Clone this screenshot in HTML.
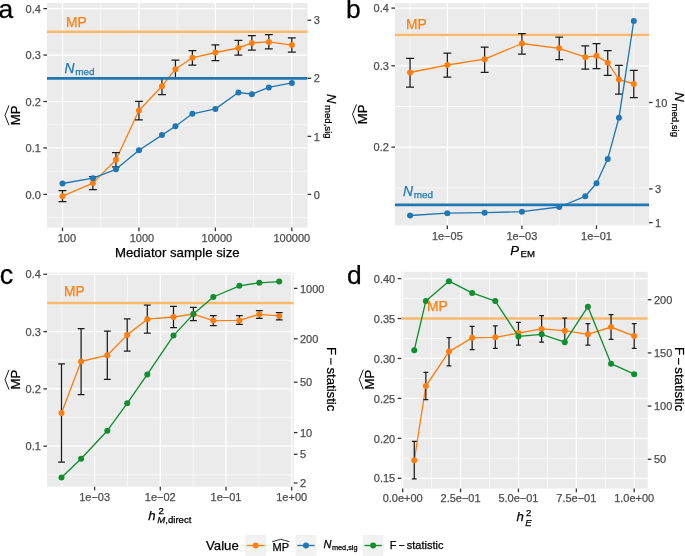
<!DOCTYPE html>
<html><head><meta charset="utf-8"><style>html,body{margin:0;padding:0;background:#fff;overflow:hidden}svg{display:block}text{font-family:"Liberation Sans",sans-serif}</style></head><body>
<svg width="685" height="556" viewBox="0 0 685 556" style="will-change:transform" font-family="'Liberation Sans', sans-serif">
<rect width="685" height="556" fill="#fff"/>
<defs>
<clipPath id="clipa"><rect x="47" y="3" width="260.60" height="224.60"/></clipPath>
<clipPath id="clipb"><rect x="395" y="3.2" width="254.00" height="222.20"/></clipPath>
<clipPath id="clipc"><rect x="47" y="272.5" width="246.90" height="214.30"/></clipPath>
<clipPath id="clipd"><rect x="401.3" y="271.8" width="246.50" height="216.80"/></clipPath>
</defs>
<rect x="47" y="3" width="260.60" height="224.60" fill="#EBEBEB"/>
<g clip-path="url(#clipa)">
<line x1="47" x2="307.6" y1="217.62" y2="217.62" stroke="#fff" stroke-width="0.65"/>
<line x1="47" x2="307.6" y1="171.18" y2="171.18" stroke="#fff" stroke-width="0.65"/>
<line x1="47" x2="307.6" y1="124.73" y2="124.73" stroke="#fff" stroke-width="0.65"/>
<line x1="47" x2="307.6" y1="78.28" y2="78.28" stroke="#fff" stroke-width="0.65"/>
<line x1="47" x2="307.6" y1="31.83" y2="31.83" stroke="#fff" stroke-width="0.65"/>
<line x1="100.72" x2="100.72" y1="3" y2="227.6" stroke="#fff" stroke-width="0.65"/>
<line x1="177.18" x2="177.18" y1="3" y2="227.6" stroke="#fff" stroke-width="0.65"/>
<line x1="253.62" x2="253.62" y1="3" y2="227.6" stroke="#fff" stroke-width="0.65"/>
<line x1="47" x2="307.6" y1="194.40" y2="194.40" stroke="#fff" stroke-width="1.25"/>
<line x1="47" x2="307.6" y1="147.95" y2="147.95" stroke="#fff" stroke-width="1.25"/>
<line x1="47" x2="307.6" y1="101.50" y2="101.50" stroke="#fff" stroke-width="1.25"/>
<line x1="47" x2="307.6" y1="55.05" y2="55.05" stroke="#fff" stroke-width="1.25"/>
<line x1="47" x2="307.6" y1="8.60" y2="8.60" stroke="#fff" stroke-width="1.25"/>
<line x1="62.50" x2="62.50" y1="3" y2="227.6" stroke="#fff" stroke-width="1.25"/>
<line x1="138.95" x2="138.95" y1="3" y2="227.6" stroke="#fff" stroke-width="1.25"/>
<line x1="215.40" x2="215.40" y1="3" y2="227.6" stroke="#fff" stroke-width="1.25"/>
<line x1="291.85" x2="291.85" y1="3" y2="227.6" stroke="#fff" stroke-width="1.25"/>
<line x1="47" x2="307.6" y1="31.83" y2="31.83" stroke="#FDB96B" stroke-width="2.5"/>
<polyline points="62.50,196.20 92.92,183.10 115.94,159.80 138.95,110.50 161.96,86.20 175.43,69.20 192.39,57.80 215.40,52.50 238.41,48.00 251.88,42.90 268.84,41.90 291.85,45.10" fill="none" stroke="#FF7F0E" stroke-width="1.35" stroke-linejoin="round"/>
<path d="M58.55,190.50H66.45M62.50,190.50V201.60M58.55,201.60H66.45" stroke="#1a1a1a" stroke-width="1.25" fill="none"/>
<path d="M88.97,176.60H96.87M92.92,176.60V189.60M88.97,189.60H96.87" stroke="#1a1a1a" stroke-width="1.25" fill="none"/>
<path d="M111.99,152.60H119.89M115.94,152.60V166.80M111.99,166.80H119.89" stroke="#1a1a1a" stroke-width="1.25" fill="none"/>
<path d="M135.00,101.30H142.90M138.95,101.30V119.90M135.00,119.90H142.90" stroke="#1a1a1a" stroke-width="1.25" fill="none"/>
<path d="M158.01,77.70H165.91M161.96,77.70V94.70M158.01,94.70H165.91" stroke="#1a1a1a" stroke-width="1.25" fill="none"/>
<path d="M171.48,60.00H179.38M175.43,60.00V77.50M171.48,77.50H179.38" stroke="#1a1a1a" stroke-width="1.25" fill="none"/>
<path d="M188.44,50.60H196.34M192.39,50.60V65.20M188.44,65.20H196.34" stroke="#1a1a1a" stroke-width="1.25" fill="none"/>
<path d="M211.45,44.90H219.35M215.40,44.90V60.50M211.45,60.50H219.35" stroke="#1a1a1a" stroke-width="1.25" fill="none"/>
<path d="M234.46,40.40H242.36M238.41,40.40V55.10M234.46,55.10H242.36" stroke="#1a1a1a" stroke-width="1.25" fill="none"/>
<path d="M247.93,35.50H255.83M251.88,35.50V50.20M247.93,50.20H255.83" stroke="#1a1a1a" stroke-width="1.25" fill="none"/>
<path d="M264.89,34.70H272.79M268.84,34.70V48.80M264.89,48.80H272.79" stroke="#1a1a1a" stroke-width="1.25" fill="none"/>
<path d="M287.90,37.80H295.80M291.85,37.80V52.10M287.90,52.10H295.80" stroke="#1a1a1a" stroke-width="1.25" fill="none"/>
<circle cx="62.50" cy="196.20" r="3.0" fill="#FF7F0E"/>
<circle cx="92.92" cy="183.10" r="3.0" fill="#FF7F0E"/>
<circle cx="115.94" cy="159.80" r="3.0" fill="#FF7F0E"/>
<circle cx="138.95" cy="110.50" r="3.0" fill="#FF7F0E"/>
<circle cx="161.96" cy="86.20" r="3.0" fill="#FF7F0E"/>
<circle cx="175.43" cy="69.20" r="3.0" fill="#FF7F0E"/>
<circle cx="192.39" cy="57.80" r="3.0" fill="#FF7F0E"/>
<circle cx="215.40" cy="52.50" r="3.0" fill="#FF7F0E"/>
<circle cx="238.41" cy="48.00" r="3.0" fill="#FF7F0E"/>
<circle cx="251.88" cy="42.90" r="3.0" fill="#FF7F0E"/>
<circle cx="268.84" cy="41.90" r="3.0" fill="#FF7F0E"/>
<circle cx="291.85" cy="45.10" r="3.0" fill="#FF7F0E"/>
<polyline points="62.50,183.50 92.92,178.20 115.94,169.30 138.95,150.30 161.96,135.10 175.43,126.30 192.39,113.80 215.40,108.90 238.41,92.50 251.88,94.20 268.84,87.40 291.85,82.90" fill="none" stroke="#1F77B4" stroke-width="1.35" stroke-linejoin="round"/>
<circle cx="62.50" cy="183.50" r="3.0" fill="#1F77B4"/>
<circle cx="92.92" cy="178.20" r="3.0" fill="#1F77B4"/>
<circle cx="115.94" cy="169.30" r="3.0" fill="#1F77B4"/>
<circle cx="138.95" cy="150.30" r="3.0" fill="#1F77B4"/>
<circle cx="161.96" cy="135.10" r="3.0" fill="#1F77B4"/>
<circle cx="175.43" cy="126.30" r="3.0" fill="#1F77B4"/>
<circle cx="192.39" cy="113.80" r="3.0" fill="#1F77B4"/>
<circle cx="215.40" cy="108.90" r="3.0" fill="#1F77B4"/>
<circle cx="238.41" cy="92.50" r="3.0" fill="#1F77B4"/>
<circle cx="251.88" cy="94.20" r="3.0" fill="#1F77B4"/>
<circle cx="268.84" cy="87.40" r="3.0" fill="#1F77B4"/>
<circle cx="291.85" cy="82.90" r="3.0" fill="#1F77B4"/>
<line x1="47" x2="307.6" y1="78.28" y2="78.28" stroke="#1F77B4" stroke-width="2.7"/>
</g>
<line x1="43.4" x2="47" y1="194.40" y2="194.40" stroke="#333333" stroke-width="1.3"/>
<text x="40.90" y="198.55" font-size="11" text-anchor="end" fill="#4D4D4D" stroke="#4D4D4D" stroke-width="0.25">0.0</text>
<line x1="43.4" x2="47" y1="147.95" y2="147.95" stroke="#333333" stroke-width="1.3"/>
<text x="40.90" y="152.10" font-size="11" text-anchor="end" fill="#4D4D4D" stroke="#4D4D4D" stroke-width="0.25">0.1</text>
<line x1="43.4" x2="47" y1="101.50" y2="101.50" stroke="#333333" stroke-width="1.3"/>
<text x="40.90" y="105.65" font-size="11" text-anchor="end" fill="#4D4D4D" stroke="#4D4D4D" stroke-width="0.25">0.2</text>
<line x1="43.4" x2="47" y1="55.05" y2="55.05" stroke="#333333" stroke-width="1.3"/>
<text x="40.90" y="59.20" font-size="11" text-anchor="end" fill="#4D4D4D" stroke="#4D4D4D" stroke-width="0.25">0.3</text>
<line x1="43.4" x2="47" y1="8.60" y2="8.60" stroke="#333333" stroke-width="1.3"/>
<text x="40.90" y="12.75" font-size="11" text-anchor="end" fill="#4D4D4D" stroke="#4D4D4D" stroke-width="0.25">0.4</text>
<line x1="307.6" x2="311.20000000000005" y1="194.40" y2="194.40" stroke="#333333" stroke-width="1.3"/>
<text x="313.70" y="198.55" font-size="11" text-anchor="start" fill="#4D4D4D" stroke="#4D4D4D" stroke-width="0.25">0</text>
<line x1="307.6" x2="311.20000000000005" y1="136.35" y2="136.35" stroke="#333333" stroke-width="1.3"/>
<text x="313.70" y="140.50" font-size="11" text-anchor="start" fill="#4D4D4D" stroke="#4D4D4D" stroke-width="0.25">1</text>
<line x1="307.6" x2="311.20000000000005" y1="78.30" y2="78.30" stroke="#333333" stroke-width="1.3"/>
<text x="313.70" y="82.45" font-size="11" text-anchor="start" fill="#4D4D4D" stroke="#4D4D4D" stroke-width="0.25">2</text>
<line x1="307.6" x2="311.20000000000005" y1="20.25" y2="20.25" stroke="#333333" stroke-width="1.3"/>
<text x="313.70" y="24.40" font-size="11" text-anchor="start" fill="#4D4D4D" stroke="#4D4D4D" stroke-width="0.25">3</text>
<line x1="62.50" x2="62.50" y1="227.6" y2="231.2" stroke="#333333" stroke-width="1.3"/>
<text x="66.90" y="241.70" font-size="11" text-anchor="middle" fill="#4D4D4D" stroke="#4D4D4D" stroke-width="0.25">100</text>
<line x1="138.95" x2="138.95" y1="227.6" y2="231.2" stroke="#333333" stroke-width="1.3"/>
<text x="141.89" y="241.70" font-size="11" text-anchor="middle" fill="#4D4D4D" stroke="#4D4D4D" stroke-width="0.25">1000</text>
<line x1="215.40" x2="215.40" y1="227.6" y2="231.2" stroke="#333333" stroke-width="1.3"/>
<text x="216.87" y="241.70" font-size="11" text-anchor="middle" fill="#4D4D4D" stroke="#4D4D4D" stroke-width="0.25">10000</text>
<line x1="291.85" x2="291.85" y1="227.6" y2="231.2" stroke="#333333" stroke-width="1.3"/>
<text x="291.85" y="241.70" font-size="11" text-anchor="middle" fill="#4D4D4D" stroke="#4D4D4D" stroke-width="0.25">100000</text>
<rect x="395" y="3.2" width="254.00" height="222.20" fill="#EBEBEB"/>
<g clip-path="url(#clipb)">
<line x1="395" x2="649" y1="187.86" y2="187.86" stroke="#fff" stroke-width="0.65"/>
<line x1="395" x2="649" y1="106.49" y2="106.49" stroke="#fff" stroke-width="0.65"/>
<line x1="395" x2="649" y1="36.67" y2="36.67" stroke="#fff" stroke-width="0.65"/>
<line x1="410.05" x2="410.05" y1="3.2" y2="225.4" stroke="#fff" stroke-width="0.65"/>
<line x1="484.63" x2="484.63" y1="3.2" y2="225.4" stroke="#fff" stroke-width="0.65"/>
<line x1="559.21" x2="559.21" y1="3.2" y2="225.4" stroke="#fff" stroke-width="0.65"/>
<line x1="633.79" x2="633.79" y1="3.2" y2="225.4" stroke="#fff" stroke-width="0.65"/>
<line x1="395" x2="649" y1="147.12" y2="147.12" stroke="#fff" stroke-width="1.25"/>
<line x1="395" x2="649" y1="65.80" y2="65.80" stroke="#fff" stroke-width="1.25"/>
<line x1="395" x2="649" y1="8.10" y2="8.10" stroke="#fff" stroke-width="1.25"/>
<line x1="447.34" x2="447.34" y1="3.2" y2="225.4" stroke="#fff" stroke-width="1.25"/>
<line x1="521.92" x2="521.92" y1="3.2" y2="225.4" stroke="#fff" stroke-width="1.25"/>
<line x1="596.50" x2="596.50" y1="3.2" y2="225.4" stroke="#fff" stroke-width="1.25"/>
<line x1="395" x2="649" y1="34.88" y2="34.88" stroke="#FDB96B" stroke-width="2.5"/>
<polyline points="410.05,72.50 447.34,65.00 484.63,59.20 521.92,43.50 559.21,48.30 585.27,57.20 596.50,55.80 607.73,62.70 618.95,79.50 633.79,83.90" fill="none" stroke="#FF7F0E" stroke-width="1.35" stroke-linejoin="round"/>
<path d="M406.10,58.40H414.00M410.05,58.40V87.20M406.10,87.20H414.00" stroke="#1a1a1a" stroke-width="1.25" fill="none"/>
<path d="M443.39,53.10H451.29M447.34,53.10V77.20M443.39,77.20H451.29" stroke="#1a1a1a" stroke-width="1.25" fill="none"/>
<path d="M480.68,47.20H488.58M484.63,47.20V72.30M480.68,72.30H488.58" stroke="#1a1a1a" stroke-width="1.25" fill="none"/>
<path d="M517.97,33.70H525.87M521.92,33.70V54.10M517.97,54.10H525.87" stroke="#1a1a1a" stroke-width="1.25" fill="none"/>
<path d="M555.26,37.20H563.16M559.21,37.20V59.70M555.26,59.70H563.16" stroke="#1a1a1a" stroke-width="1.25" fill="none"/>
<path d="M581.32,45.90H589.22M585.27,45.90V69.00M581.32,69.00H589.22" stroke="#1a1a1a" stroke-width="1.25" fill="none"/>
<path d="M592.55,43.50H600.45M596.50,43.50V68.50M592.55,68.50H600.45" stroke="#1a1a1a" stroke-width="1.25" fill="none"/>
<path d="M603.78,50.60H611.68M607.73,50.60V75.40M603.78,75.40H611.68" stroke="#1a1a1a" stroke-width="1.25" fill="none"/>
<path d="M615.00,65.30H622.90M618.95,65.30V94.20M615.00,94.20H622.90" stroke="#1a1a1a" stroke-width="1.25" fill="none"/>
<path d="M629.84,70.40H637.74M633.79,70.40V97.70M629.84,97.70H637.74" stroke="#1a1a1a" stroke-width="1.25" fill="none"/>
<circle cx="410.05" cy="72.50" r="3.0" fill="#FF7F0E"/>
<circle cx="447.34" cy="65.00" r="3.0" fill="#FF7F0E"/>
<circle cx="484.63" cy="59.20" r="3.0" fill="#FF7F0E"/>
<circle cx="521.92" cy="43.50" r="3.0" fill="#FF7F0E"/>
<circle cx="559.21" cy="48.30" r="3.0" fill="#FF7F0E"/>
<circle cx="585.27" cy="57.20" r="3.0" fill="#FF7F0E"/>
<circle cx="596.50" cy="55.80" r="3.0" fill="#FF7F0E"/>
<circle cx="607.73" cy="62.70" r="3.0" fill="#FF7F0E"/>
<circle cx="618.95" cy="79.50" r="3.0" fill="#FF7F0E"/>
<circle cx="633.79" cy="83.90" r="3.0" fill="#FF7F0E"/>
<polyline points="410.05,215.50 447.34,213.20 484.63,212.70 521.92,211.70 559.21,207.00 585.27,196.30 596.50,183.20 607.73,158.90 618.95,117.80 633.79,21.00" fill="none" stroke="#1F77B4" stroke-width="1.35" stroke-linejoin="round"/>
<circle cx="410.05" cy="215.50" r="3.0" fill="#1F77B4"/>
<circle cx="447.34" cy="213.20" r="3.0" fill="#1F77B4"/>
<circle cx="484.63" cy="212.70" r="3.0" fill="#1F77B4"/>
<circle cx="521.92" cy="211.70" r="3.0" fill="#1F77B4"/>
<circle cx="559.21" cy="207.00" r="3.0" fill="#1F77B4"/>
<circle cx="585.27" cy="196.30" r="3.0" fill="#1F77B4"/>
<circle cx="596.50" cy="183.20" r="3.0" fill="#1F77B4"/>
<circle cx="607.73" cy="158.90" r="3.0" fill="#1F77B4"/>
<circle cx="618.95" cy="117.80" r="3.0" fill="#1F77B4"/>
<circle cx="633.79" cy="21.00" r="3.0" fill="#1F77B4"/>
<line x1="395" x2="649" y1="204.81" y2="204.81" stroke="#1F77B4" stroke-width="2.7"/>
</g>
<line x1="391.4" x2="395" y1="147.12" y2="147.12" stroke="#333333" stroke-width="1.3"/>
<text x="388.90" y="151.27" font-size="11" text-anchor="end" fill="#4D4D4D" stroke="#4D4D4D" stroke-width="0.25">0.2</text>
<line x1="391.4" x2="395" y1="65.80" y2="65.80" stroke="#333333" stroke-width="1.3"/>
<text x="388.90" y="69.95" font-size="11" text-anchor="end" fill="#4D4D4D" stroke="#4D4D4D" stroke-width="0.25">0.3</text>
<line x1="391.4" x2="395" y1="8.10" y2="8.10" stroke="#333333" stroke-width="1.3"/>
<text x="388.90" y="12.25" font-size="11" text-anchor="end" fill="#4D4D4D" stroke="#4D4D4D" stroke-width="0.25">0.4</text>
<line x1="649" x2="652.6" y1="102.50" y2="102.50" stroke="#333333" stroke-width="1.3"/>
<text x="655.10" y="106.65" font-size="11" text-anchor="start" fill="#4D4D4D" stroke="#4D4D4D" stroke-width="0.25">10</text>
<line x1="649" x2="652.6" y1="188.90" y2="188.90" stroke="#333333" stroke-width="1.3"/>
<text x="655.10" y="193.05" font-size="11" text-anchor="start" fill="#4D4D4D" stroke="#4D4D4D" stroke-width="0.25">3</text>
<line x1="649" x2="652.6" y1="222.60" y2="222.60" stroke="#333333" stroke-width="1.3"/>
<text x="655.10" y="226.75" font-size="11" text-anchor="start" fill="#4D4D4D" stroke="#4D4D4D" stroke-width="0.25">1</text>
<line x1="447.34" x2="447.34" y1="225.4" y2="229.0" stroke="#333333" stroke-width="1.3"/>
<text x="447.34" y="239.60" font-size="11" text-anchor="middle" fill="#4D4D4D" stroke="#4D4D4D" stroke-width="0.25">1e−05</text>
<line x1="521.92" x2="521.92" y1="225.4" y2="229.0" stroke="#333333" stroke-width="1.3"/>
<text x="521.92" y="239.60" font-size="11" text-anchor="middle" fill="#4D4D4D" stroke="#4D4D4D" stroke-width="0.25">1e−03</text>
<line x1="596.50" x2="596.50" y1="225.4" y2="229.0" stroke="#333333" stroke-width="1.3"/>
<text x="596.50" y="239.60" font-size="11" text-anchor="middle" fill="#4D4D4D" stroke="#4D4D4D" stroke-width="0.25">1e−01</text>
<rect x="47" y="272.5" width="246.90" height="214.30" fill="#EBEBEB"/>
<g clip-path="url(#clipc)">
<line x1="47" x2="293.9" y1="474.85" y2="474.85" stroke="#fff" stroke-width="0.65"/>
<line x1="47" x2="293.9" y1="417.55" y2="417.55" stroke="#fff" stroke-width="0.65"/>
<line x1="47" x2="293.9" y1="360.25" y2="360.25" stroke="#fff" stroke-width="0.65"/>
<line x1="47" x2="293.9" y1="302.95" y2="302.95" stroke="#fff" stroke-width="0.65"/>
<line x1="61.75" x2="61.75" y1="272.5" y2="486.8" stroke="#fff" stroke-width="0.65"/>
<line x1="127.45" x2="127.45" y1="272.5" y2="486.8" stroke="#fff" stroke-width="0.65"/>
<line x1="193.15" x2="193.15" y1="272.5" y2="486.8" stroke="#fff" stroke-width="0.65"/>
<line x1="258.85" x2="258.85" y1="272.5" y2="486.8" stroke="#fff" stroke-width="0.65"/>
<line x1="47" x2="293.9" y1="446.20" y2="446.20" stroke="#fff" stroke-width="1.25"/>
<line x1="47" x2="293.9" y1="388.90" y2="388.90" stroke="#fff" stroke-width="1.25"/>
<line x1="47" x2="293.9" y1="331.60" y2="331.60" stroke="#fff" stroke-width="1.25"/>
<line x1="47" x2="293.9" y1="274.30" y2="274.30" stroke="#fff" stroke-width="1.25"/>
<line x1="94.60" x2="94.60" y1="272.5" y2="486.8" stroke="#fff" stroke-width="1.25"/>
<line x1="160.30" x2="160.30" y1="272.5" y2="486.8" stroke="#fff" stroke-width="1.25"/>
<line x1="226.00" x2="226.00" y1="272.5" y2="486.8" stroke="#fff" stroke-width="1.25"/>
<line x1="291.70" x2="291.70" y1="272.5" y2="486.8" stroke="#fff" stroke-width="1.25"/>
<line x1="47" x2="293.9" y1="302.95" y2="302.95" stroke="#FDB96B" stroke-width="2.5"/>
<polyline points="61.50,413.00 81.10,361.50 107.30,355.20 127.20,334.90 147.30,319.20 173.50,317.00 193.40,314.10 213.30,320.60 239.40,320.40 259.30,314.30 279.20,315.90" fill="none" stroke="#FF7F0E" stroke-width="1.35" stroke-linejoin="round"/>
<path d="M58.10,363.90H64.90M61.50,363.90V462.20M58.10,462.20H64.90" stroke="#1a1a1a" stroke-width="1.25" fill="none"/>
<path d="M77.70,328.60H84.50M81.10,328.60V394.50M77.70,394.50H84.50" stroke="#1a1a1a" stroke-width="1.25" fill="none"/>
<path d="M103.90,331.10H110.70M107.30,331.10V379.30M103.90,379.30H110.70" stroke="#1a1a1a" stroke-width="1.25" fill="none"/>
<path d="M123.80,318.80H130.60M127.20,318.80V351.20M123.80,351.20H130.60" stroke="#1a1a1a" stroke-width="1.25" fill="none"/>
<path d="M143.90,305.20H150.70M147.30,305.20V333.20M143.90,333.20H150.70" stroke="#1a1a1a" stroke-width="1.25" fill="none"/>
<path d="M170.10,306.40H176.90M173.50,306.40V327.70M170.10,327.70H176.90" stroke="#1a1a1a" stroke-width="1.25" fill="none"/>
<path d="M190.00,307.30H196.80M193.40,307.30V320.60M190.00,320.60H196.80" stroke="#1a1a1a" stroke-width="1.25" fill="none"/>
<path d="M209.90,315.50H216.70M213.30,315.50V325.50M209.90,325.50H216.70" stroke="#1a1a1a" stroke-width="1.25" fill="none"/>
<path d="M236.00,315.70H242.80M239.40,315.70V324.30M236.00,324.30H242.80" stroke="#1a1a1a" stroke-width="1.25" fill="none"/>
<path d="M255.90,310.60H262.70M259.30,310.60V318.30M255.90,318.30H262.70" stroke="#1a1a1a" stroke-width="1.25" fill="none"/>
<path d="M275.80,312.70H282.60M279.20,312.70V319.90M275.80,319.90H282.60" stroke="#1a1a1a" stroke-width="1.25" fill="none"/>
<circle cx="61.50" cy="413.00" r="3.0" fill="#FF7F0E"/>
<circle cx="81.10" cy="361.50" r="3.0" fill="#FF7F0E"/>
<circle cx="107.30" cy="355.20" r="3.0" fill="#FF7F0E"/>
<circle cx="127.20" cy="334.90" r="3.0" fill="#FF7F0E"/>
<circle cx="147.30" cy="319.20" r="3.0" fill="#FF7F0E"/>
<circle cx="173.50" cy="317.00" r="3.0" fill="#FF7F0E"/>
<circle cx="193.40" cy="314.10" r="3.0" fill="#FF7F0E"/>
<circle cx="213.30" cy="320.60" r="3.0" fill="#FF7F0E"/>
<circle cx="239.40" cy="320.40" r="3.0" fill="#FF7F0E"/>
<circle cx="259.30" cy="314.30" r="3.0" fill="#FF7F0E"/>
<circle cx="279.20" cy="315.90" r="3.0" fill="#FF7F0E"/>
<polyline points="61.50,477.50 81.10,458.70 107.30,430.70 127.20,403.30 147.30,374.40 173.50,335.60 193.40,314.10 213.30,297.00 239.40,285.80 259.30,282.80 279.20,281.60" fill="none" stroke="#0F8F2F" stroke-width="1.35" stroke-linejoin="round"/>
<circle cx="61.50" cy="477.50" r="3.0" fill="#0F8F2F"/>
<circle cx="81.10" cy="458.70" r="3.0" fill="#0F8F2F"/>
<circle cx="107.30" cy="430.70" r="3.0" fill="#0F8F2F"/>
<circle cx="127.20" cy="403.30" r="3.0" fill="#0F8F2F"/>
<circle cx="147.30" cy="374.40" r="3.0" fill="#0F8F2F"/>
<circle cx="173.50" cy="335.60" r="3.0" fill="#0F8F2F"/>
<circle cx="193.40" cy="314.10" r="3.0" fill="#0F8F2F"/>
<circle cx="213.30" cy="297.00" r="3.0" fill="#0F8F2F"/>
<circle cx="239.40" cy="285.80" r="3.0" fill="#0F8F2F"/>
<circle cx="259.30" cy="282.80" r="3.0" fill="#0F8F2F"/>
<circle cx="279.20" cy="281.60" r="3.0" fill="#0F8F2F"/>
</g>
<line x1="43.4" x2="47" y1="446.20" y2="446.20" stroke="#333333" stroke-width="1.3"/>
<text x="40.90" y="450.35" font-size="11" text-anchor="end" fill="#4D4D4D" stroke="#4D4D4D" stroke-width="0.25">0.1</text>
<line x1="43.4" x2="47" y1="388.90" y2="388.90" stroke="#333333" stroke-width="1.3"/>
<text x="40.90" y="393.05" font-size="11" text-anchor="end" fill="#4D4D4D" stroke="#4D4D4D" stroke-width="0.25">0.2</text>
<line x1="43.4" x2="47" y1="331.60" y2="331.60" stroke="#333333" stroke-width="1.3"/>
<text x="40.90" y="335.75" font-size="11" text-anchor="end" fill="#4D4D4D" stroke="#4D4D4D" stroke-width="0.25">0.3</text>
<line x1="43.4" x2="47" y1="274.30" y2="274.30" stroke="#333333" stroke-width="1.3"/>
<text x="40.90" y="278.45" font-size="11" text-anchor="end" fill="#4D4D4D" stroke="#4D4D4D" stroke-width="0.25">0.4</text>
<line x1="293.9" x2="297.5" y1="288.40" y2="288.40" stroke="#333333" stroke-width="1.3"/>
<text x="300.00" y="292.55" font-size="11" text-anchor="start" fill="#4D4D4D" stroke="#4D4D4D" stroke-width="0.25">1000</text>
<line x1="293.9" x2="297.5" y1="338.80" y2="338.80" stroke="#333333" stroke-width="1.3"/>
<text x="300.00" y="342.95" font-size="11" text-anchor="start" fill="#4D4D4D" stroke="#4D4D4D" stroke-width="0.25">200</text>
<line x1="293.9" x2="297.5" y1="382.20" y2="382.20" stroke="#333333" stroke-width="1.3"/>
<text x="300.00" y="386.35" font-size="11" text-anchor="start" fill="#4D4D4D" stroke="#4D4D4D" stroke-width="0.25">50</text>
<line x1="293.9" x2="297.5" y1="432.60" y2="432.60" stroke="#333333" stroke-width="1.3"/>
<text x="300.00" y="436.75" font-size="11" text-anchor="start" fill="#4D4D4D" stroke="#4D4D4D" stroke-width="0.25">10</text>
<line x1="293.9" x2="297.5" y1="454.30" y2="454.30" stroke="#333333" stroke-width="1.3"/>
<text x="300.00" y="458.45" font-size="11" text-anchor="start" fill="#4D4D4D" stroke="#4D4D4D" stroke-width="0.25">5</text>
<line x1="293.9" x2="297.5" y1="483.00" y2="483.00" stroke="#333333" stroke-width="1.3"/>
<text x="300.00" y="487.15" font-size="11" text-anchor="start" fill="#4D4D4D" stroke="#4D4D4D" stroke-width="0.25">2</text>
<line x1="94.60" x2="94.60" y1="486.8" y2="490.40000000000003" stroke="#333333" stroke-width="1.3"/>
<text x="94.60" y="500.60" font-size="11" text-anchor="middle" fill="#4D4D4D" stroke="#4D4D4D" stroke-width="0.25">1e−03</text>
<line x1="160.30" x2="160.30" y1="486.8" y2="490.40000000000003" stroke="#333333" stroke-width="1.3"/>
<text x="160.30" y="500.60" font-size="11" text-anchor="middle" fill="#4D4D4D" stroke="#4D4D4D" stroke-width="0.25">1e−02</text>
<line x1="226.00" x2="226.00" y1="486.8" y2="490.40000000000003" stroke="#333333" stroke-width="1.3"/>
<text x="226.00" y="500.60" font-size="11" text-anchor="middle" fill="#4D4D4D" stroke="#4D4D4D" stroke-width="0.25">1e−01</text>
<line x1="291.70" x2="291.70" y1="486.8" y2="490.40000000000003" stroke="#333333" stroke-width="1.3"/>
<text x="291.70" y="500.60" font-size="11" text-anchor="middle" fill="#4D4D4D" stroke="#4D4D4D" stroke-width="0.25">1e+00</text>
<rect x="401.3" y="271.8" width="246.50" height="216.80" fill="#EBEBEB"/>
<g clip-path="url(#clipd)">
<line x1="401.3" x2="647.8" y1="458.33" y2="458.33" stroke="#fff" stroke-width="0.65"/>
<line x1="401.3" x2="647.8" y1="418.39" y2="418.39" stroke="#fff" stroke-width="0.65"/>
<line x1="401.3" x2="647.8" y1="378.45" y2="378.45" stroke="#fff" stroke-width="0.65"/>
<line x1="401.3" x2="647.8" y1="338.51" y2="338.51" stroke="#fff" stroke-width="0.65"/>
<line x1="401.3" x2="647.8" y1="298.57" y2="298.57" stroke="#fff" stroke-width="0.65"/>
<line x1="431.64" x2="431.64" y1="271.8" y2="488.6" stroke="#fff" stroke-width="0.65"/>
<line x1="489.51" x2="489.51" y1="271.8" y2="488.6" stroke="#fff" stroke-width="0.65"/>
<line x1="547.39" x2="547.39" y1="271.8" y2="488.6" stroke="#fff" stroke-width="0.65"/>
<line x1="605.26" x2="605.26" y1="271.8" y2="488.6" stroke="#fff" stroke-width="0.65"/>
<line x1="401.3" x2="647.8" y1="478.30" y2="478.30" stroke="#fff" stroke-width="1.25"/>
<line x1="401.3" x2="647.8" y1="438.36" y2="438.36" stroke="#fff" stroke-width="1.25"/>
<line x1="401.3" x2="647.8" y1="398.42" y2="398.42" stroke="#fff" stroke-width="1.25"/>
<line x1="401.3" x2="647.8" y1="358.48" y2="358.48" stroke="#fff" stroke-width="1.25"/>
<line x1="401.3" x2="647.8" y1="318.54" y2="318.54" stroke="#fff" stroke-width="1.25"/>
<line x1="401.3" x2="647.8" y1="278.60" y2="278.60" stroke="#fff" stroke-width="1.25"/>
<line x1="402.70" x2="402.70" y1="271.8" y2="488.6" stroke="#fff" stroke-width="1.25"/>
<line x1="460.57" x2="460.57" y1="271.8" y2="488.6" stroke="#fff" stroke-width="1.25"/>
<line x1="518.45" x2="518.45" y1="271.8" y2="488.6" stroke="#fff" stroke-width="1.25"/>
<line x1="576.33" x2="576.33" y1="271.8" y2="488.6" stroke="#fff" stroke-width="1.25"/>
<line x1="634.20" x2="634.20" y1="271.8" y2="488.6" stroke="#fff" stroke-width="1.25"/>
<line x1="401.3" x2="647.8" y1="318.54" y2="318.54" stroke="#FDB96B" stroke-width="2.5"/>
<polyline points="414.27,460.30 425.85,386.00 449.00,351.60 472.15,337.80 495.30,337.30 518.45,333.10 541.60,328.90 564.75,330.70 587.90,334.30 611.05,327.00 634.20,336.10" fill="none" stroke="#FF7F0E" stroke-width="1.35" stroke-linejoin="round"/>
<path d="M411.88,441.30H416.67M414.27,441.30V478.90M411.88,478.90H416.67" stroke="#1a1a1a" stroke-width="1.25" fill="none"/>
<path d="M423.45,372.40H428.25M425.85,372.40V399.70M423.45,399.70H428.25" stroke="#1a1a1a" stroke-width="1.25" fill="none"/>
<path d="M446.60,337.60H451.40M449.00,337.60V365.90M446.60,365.90H451.40" stroke="#1a1a1a" stroke-width="1.25" fill="none"/>
<path d="M469.75,326.30H474.55M472.15,326.30V349.50M469.75,349.50H474.55" stroke="#1a1a1a" stroke-width="1.25" fill="none"/>
<path d="M492.90,325.90H497.70M495.30,325.90V348.30M492.90,348.30H497.70" stroke="#1a1a1a" stroke-width="1.25" fill="none"/>
<path d="M516.05,322.30H520.85M518.45,322.30V345.20M516.05,345.20H520.85" stroke="#1a1a1a" stroke-width="1.25" fill="none"/>
<path d="M539.20,315.60H544.00M541.60,315.60V342.20M539.20,342.20H544.00" stroke="#1a1a1a" stroke-width="1.25" fill="none"/>
<path d="M562.35,318.10H567.15M564.75,318.10V341.00M562.35,341.00H567.15" stroke="#1a1a1a" stroke-width="1.25" fill="none"/>
<path d="M585.50,323.50H590.30M587.90,323.50V345.00M585.50,345.00H590.30" stroke="#1a1a1a" stroke-width="1.25" fill="none"/>
<path d="M608.65,314.60H613.45M611.05,314.60V339.40M608.65,339.40H613.45" stroke="#1a1a1a" stroke-width="1.25" fill="none"/>
<path d="M631.80,323.50H636.60M634.20,323.50V348.30M631.80,348.30H636.60" stroke="#1a1a1a" stroke-width="1.25" fill="none"/>
<circle cx="414.27" cy="460.30" r="3.0" fill="#FF7F0E"/>
<circle cx="425.85" cy="386.00" r="3.0" fill="#FF7F0E"/>
<circle cx="449.00" cy="351.60" r="3.0" fill="#FF7F0E"/>
<circle cx="472.15" cy="337.80" r="3.0" fill="#FF7F0E"/>
<circle cx="495.30" cy="337.30" r="3.0" fill="#FF7F0E"/>
<circle cx="518.45" cy="333.10" r="3.0" fill="#FF7F0E"/>
<circle cx="541.60" cy="328.90" r="3.0" fill="#FF7F0E"/>
<circle cx="564.75" cy="330.70" r="3.0" fill="#FF7F0E"/>
<circle cx="587.90" cy="334.30" r="3.0" fill="#FF7F0E"/>
<circle cx="611.05" cy="327.00" r="3.0" fill="#FF7F0E"/>
<circle cx="634.20" cy="336.10" r="3.0" fill="#FF7F0E"/>
<polyline points="414.27,350.20 425.85,300.90 449.00,281.20 472.15,292.90 495.30,301.10 518.45,336.40 541.60,334.30 564.75,342.20 587.90,306.70 611.05,363.70 634.20,374.20" fill="none" stroke="#0F8F2F" stroke-width="1.35" stroke-linejoin="round"/>
<circle cx="414.27" cy="350.20" r="3.0" fill="#0F8F2F"/>
<circle cx="425.85" cy="300.90" r="3.0" fill="#0F8F2F"/>
<circle cx="449.00" cy="281.20" r="3.0" fill="#0F8F2F"/>
<circle cx="472.15" cy="292.90" r="3.0" fill="#0F8F2F"/>
<circle cx="495.30" cy="301.10" r="3.0" fill="#0F8F2F"/>
<circle cx="518.45" cy="336.40" r="3.0" fill="#0F8F2F"/>
<circle cx="541.60" cy="334.30" r="3.0" fill="#0F8F2F"/>
<circle cx="564.75" cy="342.20" r="3.0" fill="#0F8F2F"/>
<circle cx="587.90" cy="306.70" r="3.0" fill="#0F8F2F"/>
<circle cx="611.05" cy="363.70" r="3.0" fill="#0F8F2F"/>
<circle cx="634.20" cy="374.20" r="3.0" fill="#0F8F2F"/>
</g>
<line x1="397.7" x2="401.3" y1="478.30" y2="478.30" stroke="#333333" stroke-width="1.3"/>
<text x="395.20" y="482.45" font-size="11" text-anchor="end" fill="#4D4D4D" stroke="#4D4D4D" stroke-width="0.25">0.15</text>
<line x1="397.7" x2="401.3" y1="438.36" y2="438.36" stroke="#333333" stroke-width="1.3"/>
<text x="395.20" y="442.51" font-size="11" text-anchor="end" fill="#4D4D4D" stroke="#4D4D4D" stroke-width="0.25">0.20</text>
<line x1="397.7" x2="401.3" y1="398.42" y2="398.42" stroke="#333333" stroke-width="1.3"/>
<text x="395.20" y="402.57" font-size="11" text-anchor="end" fill="#4D4D4D" stroke="#4D4D4D" stroke-width="0.25">0.25</text>
<line x1="397.7" x2="401.3" y1="358.48" y2="358.48" stroke="#333333" stroke-width="1.3"/>
<text x="395.20" y="362.63" font-size="11" text-anchor="end" fill="#4D4D4D" stroke="#4D4D4D" stroke-width="0.25">0.30</text>
<line x1="397.7" x2="401.3" y1="318.54" y2="318.54" stroke="#333333" stroke-width="1.3"/>
<text x="395.20" y="322.69" font-size="11" text-anchor="end" fill="#4D4D4D" stroke="#4D4D4D" stroke-width="0.25">0.35</text>
<line x1="397.7" x2="401.3" y1="278.60" y2="278.60" stroke="#333333" stroke-width="1.3"/>
<text x="395.20" y="282.75" font-size="11" text-anchor="end" fill="#4D4D4D" stroke="#4D4D4D" stroke-width="0.25">0.40</text>
<line x1="647.8" x2="651.4" y1="299.70" y2="299.70" stroke="#333333" stroke-width="1.3"/>
<text x="653.90" y="303.85" font-size="11" text-anchor="start" fill="#4D4D4D" stroke="#4D4D4D" stroke-width="0.25">200</text>
<line x1="647.8" x2="651.4" y1="352.90" y2="352.90" stroke="#333333" stroke-width="1.3"/>
<text x="653.90" y="357.05" font-size="11" text-anchor="start" fill="#4D4D4D" stroke="#4D4D4D" stroke-width="0.25">150</text>
<line x1="647.8" x2="651.4" y1="406.10" y2="406.10" stroke="#333333" stroke-width="1.3"/>
<text x="653.90" y="410.25" font-size="11" text-anchor="start" fill="#4D4D4D" stroke="#4D4D4D" stroke-width="0.25">100</text>
<line x1="647.8" x2="651.4" y1="459.30" y2="459.30" stroke="#333333" stroke-width="1.3"/>
<text x="653.90" y="463.45" font-size="11" text-anchor="start" fill="#4D4D4D" stroke="#4D4D4D" stroke-width="0.25">50</text>
<line x1="402.70" x2="402.70" y1="488.6" y2="492.20000000000005" stroke="#333333" stroke-width="1.3"/>
<text x="402.70" y="502.20" font-size="11" text-anchor="middle" fill="#4D4D4D" stroke="#4D4D4D" stroke-width="0.25">0.0e+00</text>
<line x1="460.57" x2="460.57" y1="488.6" y2="492.20000000000005" stroke="#333333" stroke-width="1.3"/>
<text x="460.57" y="502.20" font-size="11" text-anchor="middle" fill="#4D4D4D" stroke="#4D4D4D" stroke-width="0.25">2.5e−01</text>
<line x1="518.45" x2="518.45" y1="488.6" y2="492.20000000000005" stroke="#333333" stroke-width="1.3"/>
<text x="518.45" y="502.20" font-size="11" text-anchor="middle" fill="#4D4D4D" stroke="#4D4D4D" stroke-width="0.25">5.0e−01</text>
<line x1="576.33" x2="576.33" y1="488.6" y2="492.20000000000005" stroke="#333333" stroke-width="1.3"/>
<text x="576.33" y="502.20" font-size="11" text-anchor="middle" fill="#4D4D4D" stroke="#4D4D4D" stroke-width="0.25">7.5e−01</text>
<line x1="634.20" x2="634.20" y1="488.6" y2="492.20000000000005" stroke="#333333" stroke-width="1.3"/>
<text x="634.20" y="502.20" font-size="11" text-anchor="middle" fill="#4D4D4D" stroke="#4D4D4D" stroke-width="0.25">1.0e+00</text>
<text x="66.00" y="27.00" font-size="13.8" text-anchor="start" fill="#FF7F0E" stroke="#FF7F0E" stroke-width="0.25">MP</text>
<text x="64.60" y="72.70" font-size="13.8" fill="#1F77B4" stroke="#1F77B4" stroke-width="0.25"><tspan font-style="italic">N</tspan><tspan font-size="9.9" dx="0.8" dy="2.3">med</tspan></text>
<text x="406.10" y="28.60" font-size="13.8" text-anchor="start" fill="#FF7F0E" stroke="#FF7F0E" stroke-width="0.25">MP</text>
<text x="403.00" y="195.70" font-size="13.8" fill="#1F77B4" stroke="#1F77B4" stroke-width="0.25"><tspan font-style="italic">N</tspan><tspan font-size="9.9" dx="0.8" dy="2.3">med</tspan></text>
<text x="64.10" y="296.10" font-size="13.8" text-anchor="start" fill="#FF7F0E" stroke="#FF7F0E" stroke-width="0.25">MP</text>
<text x="427.10" y="311.00" font-size="13.8" text-anchor="start" fill="#FF7F0E" stroke="#FF7F0E" stroke-width="0.25">MP</text>
<text x="-1.60" y="17.60" font-size="26.4" text-anchor="start" fill="#000" stroke="#000" stroke-width="0.25">a</text>
<text x="346.00" y="18.40" font-size="26.4" text-anchor="start" fill="#000" stroke="#000" stroke-width="0.25">b</text>
<text x="-0.30" y="283.60" font-size="27.0" text-anchor="start" fill="#000" stroke="#000" stroke-width="0.25">c</text>
<text x="346.90" y="283.60" font-size="26.4" text-anchor="start" fill="#000" stroke="#000" stroke-width="0.25">d</text>
<g transform="translate(19.60,115.30) rotate(-90)"><text x="0" y="0" font-size="13.2" text-anchor="middle" fill="#000" stroke="#000" stroke-width="0.25">MP</text><path d="M-9.9,-10.6 L0,-14.6 L9.9,-10.6" fill="none" stroke="#000" stroke-width="0.9"/></g>
<g transform="translate(367.10,114.30) rotate(-90)"><text x="0" y="0" font-size="13.2" text-anchor="middle" fill="#000" stroke="#000" stroke-width="0.25">MP</text><path d="M-9.9,-10.6 L0,-14.6 L9.9,-10.6" fill="none" stroke="#000" stroke-width="0.9"/></g>
<g transform="translate(19.60,379.70) rotate(-90)"><text x="0" y="0" font-size="13.2" text-anchor="middle" fill="#000" stroke="#000" stroke-width="0.25">MP</text><path d="M-9.9,-10.6 L0,-14.6 L9.9,-10.6" fill="none" stroke="#000" stroke-width="0.9"/></g>
<g transform="translate(373.90,379.60) rotate(-90)"><text x="0" y="0" font-size="13.2" text-anchor="middle" fill="#000" stroke="#000" stroke-width="0.25">MP</text><path d="M-9.9,-10.6 L0,-14.6 L9.9,-10.6" fill="none" stroke="#000" stroke-width="0.9"/></g>
<g transform="translate(327.20,0) rotate(90)">
<text x="93.90" y="0" font-size="13.2" fill="#000" stroke="#000" stroke-width="0.25"><tspan font-style="italic">N</tspan><tspan font-size="9.6" dx="1.6" dy="2.3">med,sig</tspan></text>
</g>
<g transform="translate(674.60,0) rotate(90)">
<text x="92.30" y="0" font-size="13.2" fill="#000" stroke="#000" stroke-width="0.25"><tspan font-style="italic">N</tspan><tspan font-size="9.6" dx="1.6" dy="2.3">med,sig</tspan></text>
</g>
<g transform="translate(327.00,0) rotate(90)">
<text x="347.05" y="0.00" font-size="13.2" fill="#000" stroke="#000" stroke-width="0.25">F</text>
<rect x="358.10" y="-4.45" width="6.60" height="1.10" fill="#000"/>
<text x="367.40" y="0.00" font-size="13.2" fill="#000" stroke="#000" stroke-width="0.25">statistic</text>
</g>
<g transform="translate(674.70,0) rotate(90)">
<text x="346.95" y="0.00" font-size="13.2" fill="#000" stroke="#000" stroke-width="0.25">F</text>
<rect x="358.00" y="-4.45" width="6.60" height="1.10" fill="#000"/>
<text x="367.30" y="0.00" font-size="13.2" fill="#000" stroke="#000" stroke-width="0.25">statistic</text>
</g>
<text x="177.30" y="257.20" font-size="13.2" text-anchor="middle" fill="#000" stroke="#000" stroke-width="0.25">Mediator sample size</text>
<text x="510.2" y="254.6" font-size="13.2" fill="#000" stroke="#000" stroke-width="0.25"><tspan font-style="italic">P</tspan><tspan font-size="9.6" dx="1.5" dy="2.2">EM</tspan></text>
<text x="148.3" y="520.0" font-size="13.2" fill="#000" stroke="#000" stroke-width="0.25"><tspan font-style="italic">h</tspan></text>
<text x="158.4" y="514.2" font-size="9.6" fill="#000" stroke="#000" stroke-width="0.25">2</text>
<text x="157.3" y="523.4" font-size="9.6" fill="#000" stroke="#000" stroke-width="0.25"><tspan font-style="italic">M</tspan>,direct</text>
<text x="516.6" y="521.1" font-size="13.2" fill="#000" stroke="#000" stroke-width="0.25"><tspan font-style="italic">h</tspan></text>
<text x="526.1" y="515.9" font-size="9.6" fill="#000" stroke="#000" stroke-width="0.25">2</text>
<text x="525.2" y="525.6" font-size="9.6" fill="#000" font-style="italic" stroke="#000" stroke-width="0.25">E</text>
<text x="206.00" y="550.30" font-size="13.2" text-anchor="start" fill="#000" stroke="#000" stroke-width="0.25">Value</text>
<rect x="245.2" y="535" width="21" height="21" fill="#F2F2F2"/>
<line x1="247.0" x2="264.4" y1="545.5" y2="545.5" stroke="#FF7F0E" stroke-width="1.35"/>
<circle cx="255.7" cy="545.5" r="3.0" fill="#FF7F0E"/>
<rect x="295.5" y="535" width="21" height="21" fill="#F2F2F2"/>
<line x1="297.3" x2="314.7" y1="545.5" y2="545.5" stroke="#1F77B4" stroke-width="1.35"/>
<circle cx="306.0" cy="545.5" r="3.0" fill="#1F77B4"/>
<rect x="362.6" y="535" width="21" height="21" fill="#F2F2F2"/>
<line x1="364.40000000000003" x2="381.8" y1="545.5" y2="545.5" stroke="#0F8F2F" stroke-width="1.35"/>
<circle cx="373.1" cy="545.5" r="3.0" fill="#0F8F2F"/>
<g transform="translate(280.8,551.0)"><text x="0" y="0" font-size="11" text-anchor="middle" fill="#000" stroke="#000" stroke-width="0.25">MP</text><path d="M-8.6,-9.3 L0,-11.7 L8.6,-9.3" fill="none" stroke="#000" stroke-width="0.8"/></g>
<text x="323.5" y="548.0" font-size="11" fill="#000" stroke="#000" stroke-width="0.25"><tspan font-style="italic">N</tspan><tspan font-size="7.3" dx="0.5" dy="2.0">med,sig</tspan></text>
<text x="389.82" y="548.80" font-size="11.0" fill="#000" stroke="#000" stroke-width="0.25">F</text>
<rect x="399.03" y="545.09" width="5.50" height="0.92" fill="#000"/>
<text x="406.78" y="548.80" font-size="11.0" fill="#000" stroke="#000" stroke-width="0.25">statistic</text>
</svg>
</body></html>
